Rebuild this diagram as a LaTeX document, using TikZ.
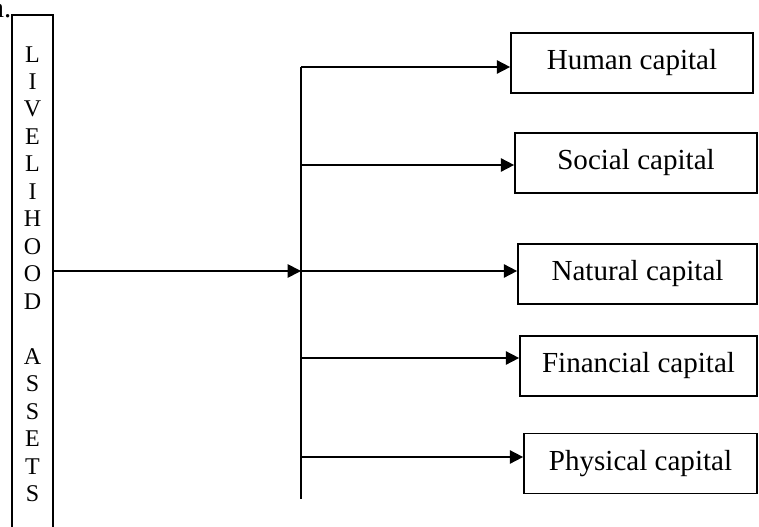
\documentclass[tikz,border=0pt]{standalone}
\usepackage{fontspec}
\setmainfont{Liberation Serif}
\usetikzlibrary{arrows.meta}

\begin{document}
\begin{tikzpicture} [x=0.75pt, y=-0.75pt, line width=1.3pt,
            cap_style/.style={draw, rectangle, inner sep=0pt, minimum height=45pt, font=\fontsize{21.8}{24}\selectfont},
            edge_style/.style={draw=black, -{Triangle[length=10pt,width=10pt]}}]
            \useasboundingbox (0,0) rectangle (759,527);
            \node[anchor=base east, font=\fontsize{21.5}{24}\selectfont] (mark) at (16.5,18) {a.};
            \node[draw, rectangle, inner sep=0pt, minimum width=30.75pt, minimum height=388.5pt,
                  align=center, font=\fontsize{18}{20.6}\selectfont] (la) at (32.5,274)
                  {L\\I\\V\\E\\L\\I\\H\\O\\O\\D\\[20.6pt]A\\S\\S\\E\\T\\S};
            \node[cap_style, minimum width=181.5pt] (hc) at (632,63) {Human capital};
            \node[cap_style, minimum width=181.5pt] (sc) at (636,163) {Social capital};
            \node[cap_style, minimum width=179.25pt] (nc) at (637.5,274) {Natural capital};
            \node[cap_style, minimum width=177.75pt] (fc) at (638.5,366) {Financial capital};
            \node[cap_style, minimum width=174.75pt] (pc) at (640.5,463.5) {Physical capital};
            \coordinate (b1) at (301,67);
            \coordinate (b2) at (301,165);
            \coordinate (b3) at (301,271);
            \coordinate (b4) at (301,358);
            \coordinate (b5) at (301,457);
            \coordinate (b6) at (301,499);
            \draw (b1) -- (b6);
            \draw[edge_style] (la.east |- b3) -- (b3);
            \draw[edge_style] (b1) -- (b1 -| hc.west);
            \draw[edge_style] (b2) -- (b2 -| sc.west);
            \draw[edge_style] (b3) -- (b3 -| nc.west);
            \draw[edge_style] (b4) -- (b4 -| fc.west);
            \draw[edge_style] (b5) -- (b5 -| pc.west);
        \end{tikzpicture}
\end{document}
